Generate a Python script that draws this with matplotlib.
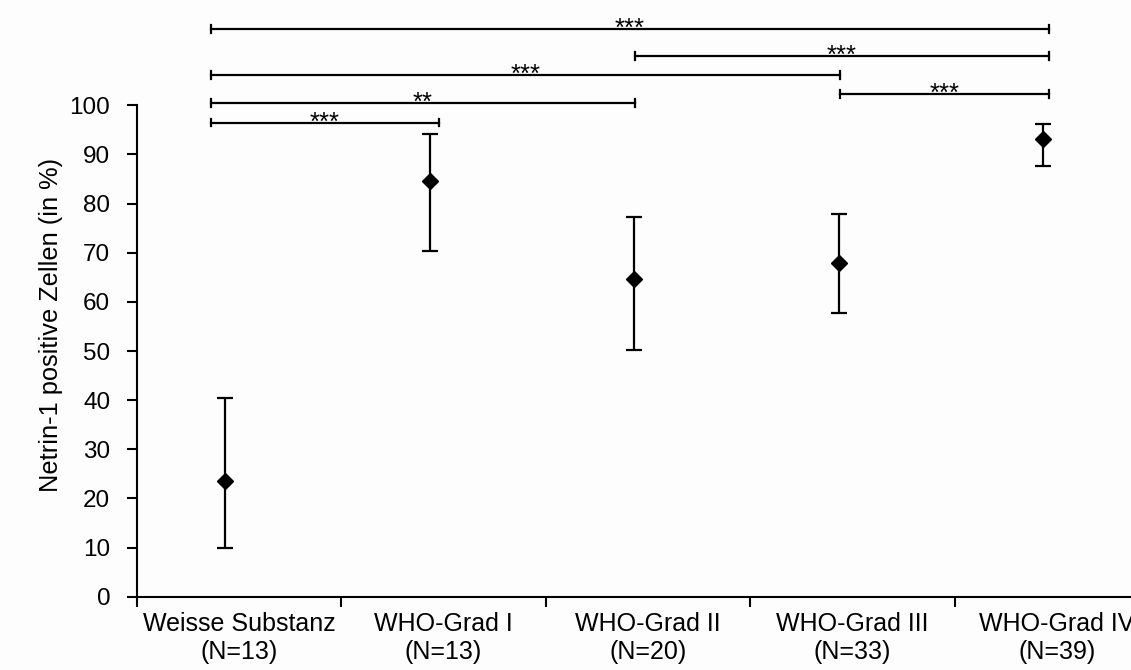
import matplotlib
matplotlib.use("Agg")
import matplotlib.pyplot as plt
import numpy as np

plt.rcParams["font.family"] = ["Liberation Sans", "DejaVu Sans"]

# Netrin-1 positive cells per group (mean with lower / upper error limits)
groups = ["Weisse Substanz", "WHO-Grad I", "WHO-Grad II", "WHO-Grad III", "WHO-Grad IV"]
n_cases = [13, 13, 20, 33, 39]
means = [23.5, 84.6, 64.6, 68.0, 93.1]
lower = [9.9, 70.3, 50.3, 57.8, 87.6]
upper = [40.4, 94.2, 77.3, 77.8, 96.3]

# significance comparisons: (group a, group b, stars, bracket height in %)
comparisons = [
    (0, 4, "***", 115.5),
    (2, 4, "***", 110.0),
    (0, 3, "***", 106.2),
    (0, 2, "**", 100.5),
    (0, 1, "***", 96.5),
    (3, 4, "***", 102.3),
]

# where brackets attach for each group (category units)
bracket_x = [0.363, 1.477, 2.435, 3.437, 4.46]
point_offset = 0.433

fig = plt.figure(figsize=(11.31, 6.70), dpi=100, facecolor="#fdfdfd")
ax = fig.add_axes([0.1209, 0.1094, 0.9042, 0.7334])
ax.set_facecolor("#fdfdfd")

x = np.arange(len(groups)) + point_offset
m = np.array(means)
yerr = [m - np.array(lower), np.array(upper) - m]
ax.errorbar(x, m, yerr=yerr, fmt="D", color="black", ms=8.5,
            elinewidth=1.6, capsize=6, capthick=1.6, zorder=3)

# significance brackets above the plot area
cap = 0.8
for a, b, stars, y in comparisons:
    xa, xb = bracket_x[a], bracket_x[b]
    ax.plot([xa, xb], [y, y], color="black", lw=1.6, clip_on=False)
    ax.plot([xa, xa], [y - cap, y + cap], color="black", lw=1.6, clip_on=False)
    ax.plot([xb, xb], [y - cap, y + cap], color="black", lw=1.6, clip_on=False)
    ax.annotate(stars, xy=((xa + xb) / 2, y), xytext=(0, -5),
                textcoords="offset points", ha="center", va="baseline",
                fontsize=18.5, annotation_clip=False)

ax.set_xlim(0, len(groups))
ax.set_ylim(0, 100)
ax.set_yticks(np.arange(0, 101, 10))

ax.set_xticks(np.arange(len(groups) + 1))
ax.set_xticklabels([])
ax.set_xticks(np.arange(len(groups)) + 0.5, minor=True)
ax.set_xticklabels([f"{g}\n(N={n})" for g, n in zip(groups, n_cases)],
                   minor=True, linespacing=1.2)

ax.tick_params(axis="both", which="major", direction="out", length=7,
               width=1.5, labelsize=17.5, colors="black")
ax.tick_params(axis="y", pad=12)
ax.tick_params(axis="x", which="minor", length=0, labelsize=18, pad=11)

for side in ("top", "right"):
    ax.spines[side].set_visible(False)
for side in ("left", "bottom"):
    ax.spines[side].set_linewidth(1.5)

ax.set_ylabel("Netrin-1 positive Zellen (in %)", fontsize=18.3)
ax.yaxis.set_label_coords(-0.072, 0.553)

fig.savefig("out.png", dpi=100, facecolor=fig.get_facecolor())
